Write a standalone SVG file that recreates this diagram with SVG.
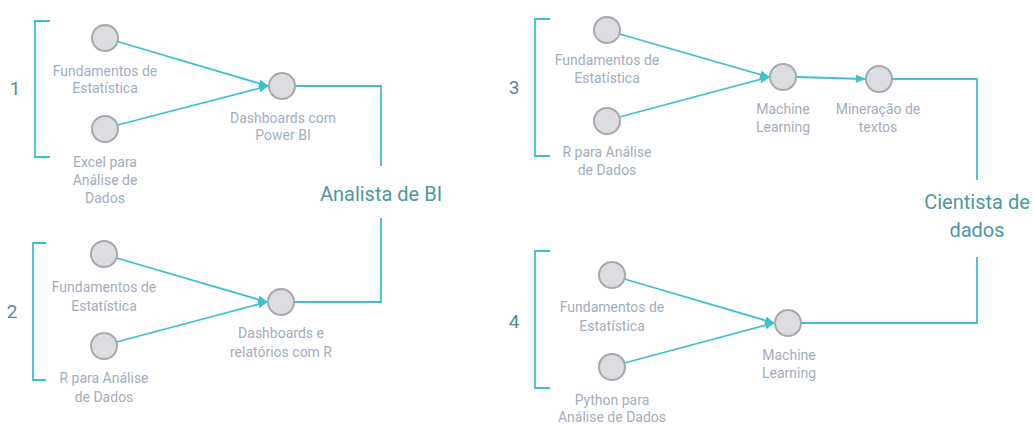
<svg xmlns="http://www.w3.org/2000/svg" width="1033" height="424" viewBox="0 0 1033 424">
<style>
.bg{fill:#ffffff}
.node circle{fill:#dcdde1;stroke:#a9a9ad;stroke-width:2}
.lbl{font-family:Roboto,"Liberation Sans",sans-serif;font-size:14px;fill:#a4adbd;text-anchor:middle}
.title{font-family:Roboto,"Liberation Sans",sans-serif;font-size:20px;fill:#4d98a2;text-anchor:middle}
.num{font-family:Roboto,"Liberation Sans",sans-serif;font-size:19px;fill:#4d8f99;text-anchor:middle}
.conn path,.conn line{fill:none;stroke:#3ec0cf;stroke-width:1.8}
.arr{marker-end:url(#ah)}
</style>
<defs>
<marker id="ah" markerUnits="userSpaceOnUse" markerWidth="10" markerHeight="10" viewBox="0 0 10 10" refX="9" refY="5" orient="auto">
<path d="M0,1 L10,5 L0,9 Z" fill="#3ec0cf"/>
</marker>
</defs>
<rect class="bg" width="1033" height="424"/>

<g id="connectors" class="conn">
<path d="M50,21 H35 V157 H50"/>
<path d="M46,243 H33 V380 H46"/>
<path d="M550,19 H535 V156 H550"/>
<path d="M550,251 H535 V388 H550"/>
<line class="arr" x1="117.5" y1="41.5" x2="268" y2="86"/>
<line class="arr" x1="117.5" y1="125" x2="268" y2="86"/>
<line class="arr" x1="116.5" y1="258" x2="267" y2="302"/>
<line class="arr" x1="116.5" y1="342" x2="267" y2="302"/>
<line class="arr" x1="619.5" y1="34" x2="769" y2="77"/>
<line class="arr" x1="619.5" y1="117" x2="769" y2="77"/>
<line class="arr" x1="796" y1="77" x2="865" y2="79"/>
<line class="arr" x1="624.5" y1="279" x2="774" y2="323"/>
<line class="arr" x1="624.5" y1="363" x2="774" y2="323"/>
<path d="M295,86 H381 V166"/>
<path d="M381,218 V302 H294"/>
<path d="M892,79 H977 V180"/>
<path d="M977,257 V323 H801"/>
</g>

<g id="group1">
<text class="num" x="15" y="95">1</text>
<g id="n1a" class="node"><circle cx="105" cy="38" r="13"/><text class="lbl" x="105" y="76">Fundamentos de</text><text class="lbl" x="105" y="93">Estatística</text></g>
<g id="n1b" class="node"><circle cx="105" cy="129" r="13"/><text class="lbl" x="105" y="167">Excel para</text><text class="lbl" x="105" y="185">Análise de</text><text class="lbl" x="105" y="203">Dados</text></g>
<g id="n1c" class="node"><circle cx="282" cy="86" r="13"/><text class="lbl" x="283" y="123">Dashboards com</text><text class="lbl" x="283" y="140">Power BI</text></g>
</g>

<g id="group2">
<text class="num" x="12" y="318">2</text>
<g id="n2a" class="node"><circle cx="104" cy="254" r="13"/><text class="lbl" x="104" y="292">Fundamentos de</text><text class="lbl" x="104" y="311">Estatística</text></g>
<g id="n2b" class="node"><circle cx="104" cy="346" r="13"/><text class="lbl" x="104" y="383">R para Análise</text><text class="lbl" x="104" y="402">de Dados</text></g>
<g id="n2c" class="node"><circle cx="281" cy="302" r="13"/><text class="lbl" x="281" y="338">Dashboards e</text><text class="lbl" x="281" y="357">relatórios com R</text></g>
</g>

<g id="group3">
<text class="num" x="514" y="94">3</text>
<g id="n3a" class="node"><circle cx="607" cy="30" r="13"/><text class="lbl" x="607" y="65">Fundamentos de</text><text class="lbl" x="607" y="83">Estatística</text></g>
<g id="n3b" class="node"><circle cx="607" cy="121" r="13"/><text class="lbl" x="607" y="157">R para Análise</text><text class="lbl" x="607" y="175">de Dados</text></g>
<g id="n3c" class="node"><circle cx="783" cy="77" r="13"/><text class="lbl" x="783" y="114">Machine</text><text class="lbl" x="783" y="132">Learning</text></g>
<g id="n3d" class="node"><circle cx="879" cy="79" r="13"/><text class="lbl" x="878" y="114">Mineração de</text><text class="lbl" x="878" y="132">textos</text></g>
</g>

<g id="group4">
<text class="num" x="514" y="328">4</text>
<g id="n4a" class="node"><circle cx="612" cy="275" r="13"/><text class="lbl" x="612" y="312">Fundamentos de</text><text class="lbl" x="612" y="331">Estatística</text></g>
<g id="n4b" class="node"><circle cx="612" cy="367" r="13"/><text class="lbl" x="612" y="405">Python para</text><text class="lbl" x="612" y="422">Análise de Dados</text></g>
<g id="n4c" class="node"><circle cx="788" cy="323" r="13"/><text class="lbl" x="789" y="360">Machine</text><text class="lbl" x="789" y="378">Learning</text></g>
</g>

<g id="title-bi"><text class="title" x="381" y="201">Analista de BI</text></g>
<g id="title-ds"><text class="title" x="977" y="209">Cientista de</text><text class="title" x="977" y="237">dados</text></g>
</svg>
